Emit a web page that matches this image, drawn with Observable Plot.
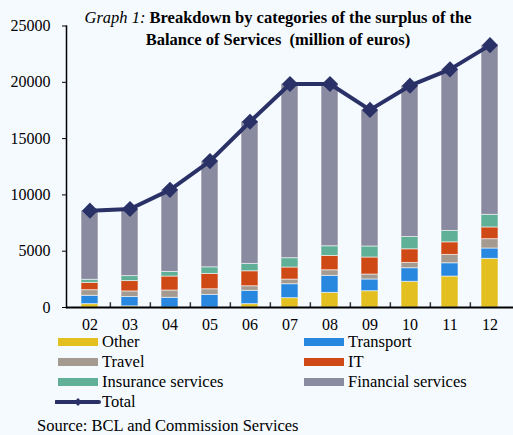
<!DOCTYPE html>
<html>
<head>
<meta charset="utf-8">
<script src="https://cdn.jsdelivr.net/npm/d3@7"></script>
<script src="https://cdn.jsdelivr.net/npm/@observablehq/plot@0.6"></script>
<style>
  html, body { margin: 0; padding: 0; background: #f5faff; }
  #wrap { position: relative; width: 513px; height: 435px; background: #f5faff; font-family: "Liberation Serif", "Times New Roman", serif; color: #000; overflow: hidden; }
  #chart { position: absolute; left: 0; top: 0; }
  #chart svg text { font-family: "Liberation Serif", "Times New Roman", serif; }
  .title { position: absolute; left: 278px; transform: translateX(-50%); white-space: nowrap; font-size: 16.5px; line-height: 20px; }
  .leg { position: absolute; font-size: 16.5px; line-height: 18px; white-space: nowrap; }
  .sw { position: absolute; width: 40px; height: 8px; }
  #source { position: absolute; left: 37px; top: 416px; font-size: 16.5px; line-height: 20px; white-space: nowrap; }
</style>
</head>
<body>
<div id="wrap">
  <div id="chart"></div>
  <div class="title" style="top:8px"><i>Graph 1:</i> <b>Breakdown by categories of the surplus of the</b></div>
  <div class="title" style="top:30px"><b>Balance of Services&nbsp; (million of euros)</b></div>
  <div id="legend"></div>
  <div id="source">Source: BCL and Commission Services</div>
</div>
<script>
const years = ["02","03","04","05","06","07","08","09","10","11","12"];
const other = [300, 100, -150, 0, 300, 830, 1300, 1450, 2280, 2750, 4320];
const transport = [740, 830, 860, 1120, 1180, 1240, 1510, 1040, 1210, 1180, 920];
const travel = [500, 500, 650, 500, 410, 410, 500, 440, 470, 740, 830];
const it = [650, 920, 1240, 1360, 1330, 1070, 1270, 1510, 1210, 1120, 1040];
const insurance = [270, 440, 410, 590, 650, 830, 860, 980, 1090, 1010, 1120];
const financial = [6140, 5960, 7290, 9430, 12630, 15470, 14410, 12130, 13440, 14350, 15070];
const total = [8600, 8750, 10450, 13000, 16500, 19850, 19850, 17550, 19700, 21150, 23300];
const yTicks = [0, 5000, 10000, 15000, 20000, 25000];

const seriesNames = ["Other", "Transport", "Travel", "IT", "Insurance services", "Financial services"];
const seriesValues = [other, transport, travel, it, insurance, financial];
const seriesColors = ["#e3bf1f", "#2888df", "#a49a90", "#cf4916", "#5fb096", "#8a8aa1"];
const totalColor = "#2a3166";

const rows = [];
seriesNames.forEach((s, k) => years.forEach((yr, i) => rows.push({year: yr, series: s, value: seriesValues[k][i]})));
const totals = years.map((yr, i) => ({year: yr, value: total[i]}));

const serif = "'Liberation Serif', 'Times New Roman', serif";
const W = 513, H = 335, mL = 66, mR = 0, mT = 25.5, mB = 28;
const padIn = 0.58, padOut = 0.28;
const step = (W - mL - mR) / (years.length - padIn + 2 * padOut);

const chart = Plot.plot({
  width: W, height: H,
  marginLeft: mL, marginRight: mR, marginTop: mT, marginBottom: mB,
  style: {background: "transparent", fontFamily: serif, fontSize: "16px", color: "#000"},
  x: {domain: years, paddingInner: padIn, paddingOuter: padOut, align: 0.5},
  y: {domain: [0, 25000]},
  color: {domain: seriesNames, range: seriesColors},
  marks: [
    Plot.barY(rows, {x: "year", y: "value", fill: "series", order: seriesNames, stroke: "#ffffff", strokeOpacity: 0.55, strokeWidth: 1, inset: 0}),
    Plot.ruleX(years.slice(0, -1), {x: d => d, y1: 0, y2: 420, dx: step / 2, stroke: "#333", strokeWidth: 1.5}),
    Plot.ruleY([0], {stroke: "#000", strokeWidth: 2}),
    Plot.frame({anchor: "left", stroke: "#000", strokeWidth: 1.5}),
    Plot.axisY({ticks: yTicks, tickSize: 4, tickPadding: 12, tickFormat: d => String(d), label: null, fontSize: 16, fontFamily: serif}),
    Plot.axisX({tickSize: 0, tickPadding: 11, label: null, fontSize: 16, fontFamily: serif}),
    Plot.line(totals, {x: "year", y: "value", stroke: totalColor, strokeWidth: 4}),
    Plot.dot(totals, {x: "year", y: "value", symbol: "diamond2", r: 6.3, fill: totalColor, stroke: totalColor})
  ]
});
document.getElementById("chart").appendChild(chart);

// legend
const legend = document.getElementById("legend");
const rowY = [342, 362, 382];
const items = [
  {name: "Other", col: 0, row: 0},
  {name: "Transport", col: 1, row: 0},
  {name: "Travel", col: 0, row: 1},
  {name: "IT", col: 1, row: 1},
  {name: "Insurance services", col: 0, row: 2},
  {name: "Financial services", col: 1, row: 2}
];
const colX = [58, 304];
items.forEach(it => {
  const c = seriesColors[seriesNames.indexOf(it.name)];
  const sw = document.createElement("div");
  sw.className = "sw";
  sw.style.left = colX[it.col] + "px";
  sw.style.top = (rowY[it.row] - 4) + "px";
  sw.style.background = c;
  legend.appendChild(sw);
  const t = document.createElement("div");
  t.className = "leg";
  t.style.left = (colX[it.col] + 44) + "px";
  t.style.top = (rowY[it.row] - 9) + "px";
  t.textContent = it.name;
  legend.appendChild(t);
});
// total legend entry
const ns = "http://www.w3.org/2000/svg";
const svg = document.createElementNS(ns, "svg");
svg.setAttribute("width", 46); svg.setAttribute("height", 12);
svg.style.position = "absolute"; svg.style.left = "55px"; svg.style.top = "396px";
const ln = document.createElementNS(ns, "line");
ln.setAttribute("x1", 1); ln.setAttribute("x2", 44); ln.setAttribute("y1", 6); ln.setAttribute("y2", 6);
ln.setAttribute("stroke", totalColor); ln.setAttribute("stroke-width", 4); ln.setAttribute("stroke-linecap", "round");
svg.appendChild(ln);
const dm = document.createElementNS(ns, "path");
dm.setAttribute("d", "M23,2 L27,6 L23,10 L19,6 Z");
dm.setAttribute("fill", totalColor);
svg.appendChild(dm);
legend.appendChild(svg);
const tt = document.createElement("div");
tt.className = "leg"; tt.style.left = "102px"; tt.style.top = "393px"; tt.textContent = "Total";
legend.appendChild(tt);
</script>
</body>
</html>
